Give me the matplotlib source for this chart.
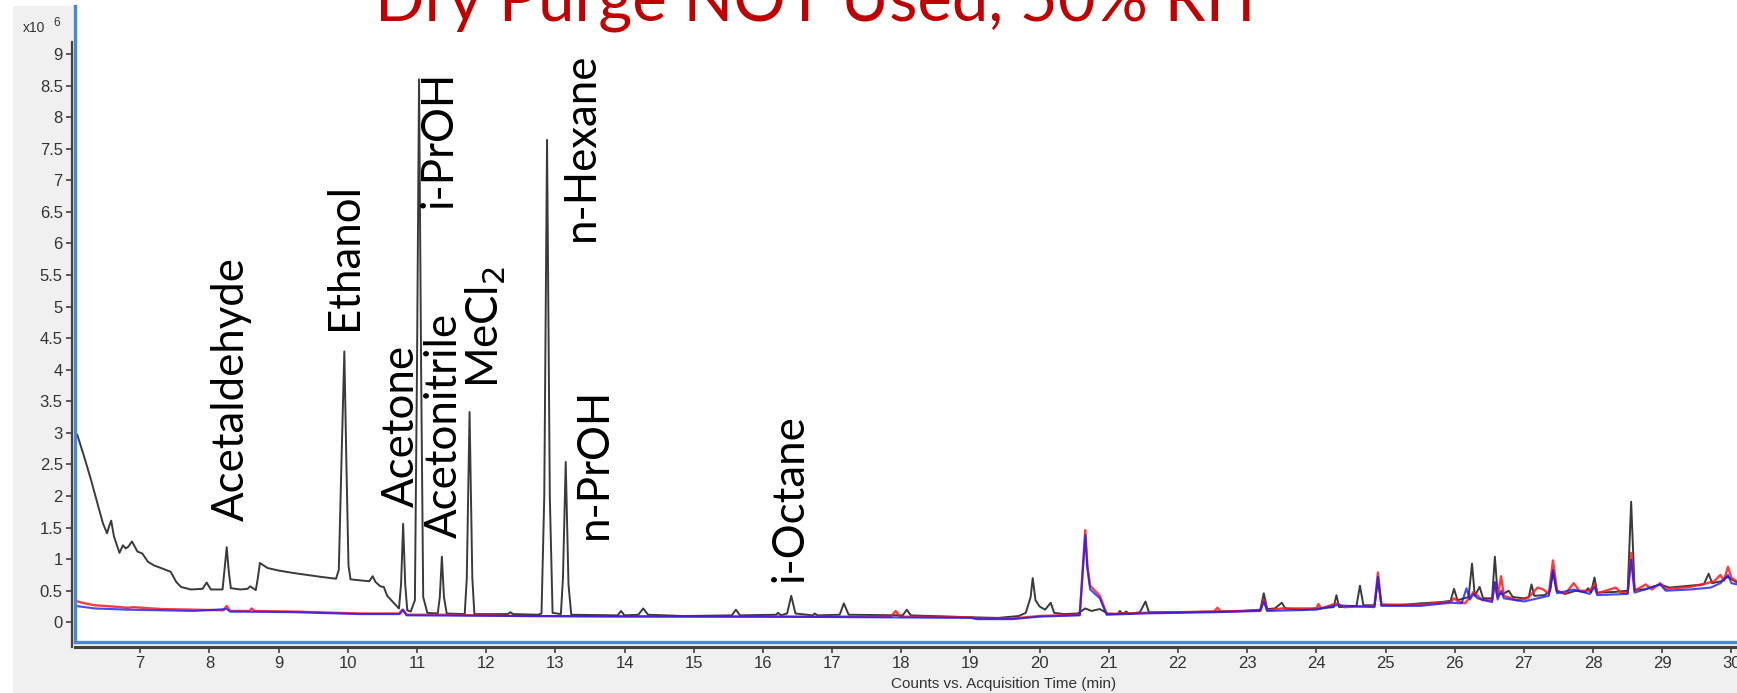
import matplotlib
matplotlib.use("Agg")
import matplotlib.pyplot as plt
from matplotlib.patches import Rectangle

W, H = 1737, 693

# retention time (min) and counts (x10^6)
black_t = [6.06, 6.09, 6.19, 6.29, 6.38, 6.46, 6.52, 6.55, 6.58, 6.62, 6.70, 6.75, 6.79, 6.83, 6.88,
           6.96, 7.03, 7.11, 7.20, 7.30, 7.44, 7.52, 7.59, 7.73, 7.90, 7.96, 8.02, 8.19, 8.22, 8.25,
           8.28, 8.31, 8.45, 8.55, 8.59, 8.67, 8.70, 8.73, 8.84, 9.00, 9.22, 9.61, 9.83, 9.87, 9.91,
           9.95, 9.98, 10.01, 10.04, 10.31, 10.36, 10.40, 10.47, 10.52, 10.57, 10.67, 10.74, 10.77,
           10.80, 10.83, 10.86, 10.91, 10.97, 11.00, 11.03, 11.06, 11.09, 11.15, 11.30, 11.33, 11.36,
           11.39, 11.43, 11.69, 11.72, 11.76, 11.80, 11.83, 12.31, 12.35, 12.39, 12.75, 12.80, 12.84,
           12.88, 12.92, 12.96, 13.08, 13.11, 13.15, 13.19, 13.23, 13.90, 13.95, 14.00, 14.20, 14.27,
           14.34, 14.85, 15.55, 15.61, 15.67, 16.19, 16.22, 16.26, 16.35, 16.41, 16.47, 16.72, 16.75,
           16.79, 17.11, 17.17, 17.24, 18.02, 18.08, 18.14, 19.00, 19.40, 19.70, 19.80, 19.87, 19.90,
           19.94, 20.00, 20.08, 20.16, 20.21, 20.35, 20.55, 20.66, 20.75, 20.87, 20.98, 21.13, 21.16,
           21.20, 21.25, 21.30, 21.45, 21.53, 21.58, 22.00, 22.50, 22.95, 23.05, 23.19, 23.24, 23.29,
           23.40, 23.50, 23.55, 23.80, 24.00, 24.25, 24.29, 24.33, 24.58, 24.63, 24.68, 24.84, 24.89,
           24.94, 25.20, 25.50, 25.80, 25.94, 25.99, 26.04, 26.20, 26.25, 26.29, 26.36, 26.41, 26.54,
           26.58, 26.62, 26.70, 26.78, 26.84, 27.00, 27.07, 27.11, 27.15, 27.30, 27.38, 27.42, 27.47,
           27.60, 27.75, 27.88, 27.93, 27.97, 28.02, 28.06, 28.30, 28.50, 28.55, 28.60, 28.75, 28.97,
           29.10, 29.40, 29.60, 29.67, 29.72, 29.85, 29.95, 30.08]
black_v = [3.00, 2.97, 2.62, 2.25, 1.89, 1.57, 1.41, 1.52, 1.61, 1.36, 1.10, 1.22, 1.17, 1.20, 1.28,
           1.12, 1.09, 0.96, 0.90, 0.86, 0.80, 0.64, 0.56, 0.52, 0.53, 0.63, 0.52, 0.52, 0.85, 1.19,
           0.80, 0.54, 0.52, 0.53, 0.57, 0.51, 0.70, 0.94, 0.86, 0.82, 0.78, 0.72, 0.69, 0.83, 2.60,
           4.29, 2.50, 0.90, 0.68, 0.65, 0.73, 0.64, 0.57, 0.56, 0.42, 0.30, 0.22, 0.60,
           1.56, 0.60, 0.19, 0.17, 0.35, 4.00, 8.60, 4.00, 0.40, 0.15, 0.14, 0.40, 1.04,
           0.40, 0.14, 0.13, 0.70, 3.33, 0.70, 0.13, 0.13, 0.16, 0.13, 0.12, 0.14, 2.00,
           7.64, 2.00, 0.15, 0.13, 0.70, 2.54, 0.60, 0.12, 0.11, 0.18, 0.11, 0.12, 0.22,
           0.12, 0.10, 0.11, 0.20, 0.11, 0.12, 0.15, 0.11, 0.14, 0.42, 0.14, 0.11, 0.14,
           0.11, 0.12, 0.30, 0.12, 0.11, 0.20, 0.11, 0.08, 0.07, 0.10, 0.15, 0.40, 0.70,
           0.35, 0.25, 0.20, 0.31, 0.15, 0.13, 0.14, 0.22, 0.18, 0.21, 0.14, 0.13, 0.18,
           0.13, 0.17, 0.13, 0.16, 0.33, 0.16, 0.16, 0.17, 0.18, 0.19, 0.20, 0.46, 0.21,
           0.22, 0.31, 0.22, 0.20, 0.22, 0.24, 0.43, 0.24, 0.26, 0.58, 0.27, 0.27, 0.67,
           0.28, 0.27, 0.30, 0.32, 0.34, 0.53, 0.35, 0.40, 0.93, 0.42, 0.56, 0.38, 0.38,
           1.04, 0.45, 0.45, 0.50, 0.40, 0.38, 0.40, 0.60, 0.42, 0.43, 0.50, 0.80, 0.50,
           0.45, 0.50, 0.48, 0.54, 0.47, 0.71, 0.47, 0.48, 0.50, 1.91, 0.52, 0.52, 0.60,
           0.55, 0.58, 0.60, 0.77, 0.62, 0.65, 0.72, 0.63]

red_t = [6.06, 6.20, 6.34, 6.60, 6.82, 6.90, 7.30, 7.78, 8.20, 8.25, 8.30, 8.58, 8.61, 8.65, 9.22,
         10.18, 10.74, 10.79, 10.85, 11.35, 12.50, 14.00, 16.00, 17.85, 17.92, 17.98, 19.00, 19.10,
         19.60, 20.00, 20.58, 20.62, 20.66, 20.69, 20.73, 20.80, 20.87, 20.93, 20.97, 21.50, 22.00,
         22.52, 22.57, 22.62, 23.19, 23.24, 23.29, 23.50, 24.00, 24.03, 24.07, 24.29, 24.40, 24.84,
         24.89, 24.94, 25.00, 25.50, 25.95, 25.99, 26.05, 26.15, 26.22, 26.27, 26.33, 26.40, 26.54,
         26.58, 26.62, 26.67, 26.71, 26.90, 27.05, 27.20, 27.28, 27.36, 27.42, 27.48, 27.60, 27.72,
         27.80, 27.95, 28.02, 28.06, 28.33, 28.40, 28.50, 28.55, 28.60, 28.76, 28.85, 28.97, 29.05,
         29.40, 29.65, 29.75, 29.84, 29.89, 29.95, 30.00, 30.08]
red_v = [0.34, 0.30, 0.27, 0.25, 0.23, 0.24, 0.21, 0.20, 0.19, 0.26, 0.18, 0.18, 0.22, 0.18, 0.17,
         0.14, 0.14, 0.20, 0.12, 0.12, 0.10, 0.09, 0.09, 0.09, 0.18, 0.09, 0.08, 0.06,
         0.06, 0.10, 0.12, 0.80, 1.46, 0.90, 0.58, 0.50, 0.42, 0.25, 0.13, 0.15, 0.16,
         0.17, 0.23, 0.17, 0.19, 0.36, 0.19, 0.22, 0.22, 0.29, 0.22, 0.30, 0.24, 0.26,
         0.79, 0.28, 0.28, 0.28, 0.33, 0.38, 0.33, 0.30, 0.40, 0.48, 0.42, 0.35, 0.35,
         0.62, 0.40, 0.73, 0.42, 0.35, 0.38, 0.55, 0.52, 0.45, 0.98, 0.50, 0.45, 0.62,
         0.50, 0.50, 0.60, 0.46, 0.55, 0.47, 0.47, 1.10, 0.50, 0.60, 0.52, 0.62, 0.53,
         0.56, 0.62, 0.65, 0.75, 0.66, 0.88, 0.70, 0.65]

blue_t = [6.06, 6.34, 6.82, 7.78, 8.25, 8.30, 9.22, 10.18, 10.75, 10.80, 10.85, 12.50, 16.00, 19.00,
          19.10, 19.60, 20.00, 20.58, 20.62, 20.66, 20.69, 20.73, 20.80, 20.87, 20.93, 20.97, 21.50,
          22.00, 22.55, 23.19, 23.24, 23.29, 24.00, 24.29, 24.84, 24.89, 24.94, 25.50, 25.95, 26.10,
          26.17, 26.22, 26.27, 26.33, 26.54, 26.58, 26.62, 26.67, 26.71, 27.00, 27.20, 27.36, 27.42,
          27.48, 27.72, 27.95, 28.02, 28.06, 28.50, 28.55, 28.60, 28.97, 29.05, 29.40, 29.70, 29.84,
          29.95, 30.00, 30.08]
blue_v = [0.26, 0.22, 0.20, 0.18, 0.21, 0.17, 0.16, 0.13, 0.13, 0.20, 0.11, 0.10, 0.09, 0.07,
          0.05, 0.05, 0.09, 0.11, 0.75, 1.38, 0.85, 0.52, 0.45, 0.38, 0.22, 0.12, 0.14,
          0.15, 0.16, 0.18, 0.33, 0.18, 0.20, 0.27, 0.24, 0.72, 0.26, 0.26, 0.31, 0.30,
          0.54, 0.36, 0.45, 0.38, 0.32, 0.64, 0.36, 0.50, 0.38, 0.33, 0.38, 0.42, 0.83,
          0.46, 0.52, 0.45, 0.56, 0.43, 0.45, 0.99, 0.47, 0.60, 0.50, 0.52, 0.55, 0.62,
          0.75, 0.62, 0.60]

# compound labels: text, baseline x (min), start y (x10^6)
labels = ["Acetaldehyde", "Ethanol", "Acetone", "Acetonitrile", "MeCl$_2$",
          "i-PrOH", "n-Hexane", "n-PrOH", "i-Octane"]
label_t = [8.50, 10.14, 10.95, 11.57, 12.18, 11.50, 13.55, 13.74, 16.57]
label_v = [1.60, 4.63, 1.83, 1.34, 3.71, 6.56, 6.04, 1.32, 0.64]

xticks = list(range(7, 31))
yticks = [i * 0.5 for i in range(19)]

fig = plt.figure(figsize=(W / 100, H / 100), dpi=100, facecolor="white")
fig.add_artist(Rectangle((13 / W, 0), 1 - 13 / W, (H - 6) / H, transform=fig.transFigure,
                         facecolor="#f0f0f0", edgecolor="none", zorder=-5))

ax = fig.add_axes([75 / W, (H - 641.7) / H, 1 - 75 / W, (641.7 - 6) / H])
ax.set_facecolor("white")
ax.set_xlim(6.057, 30.08)
ax.set_ylim(-0.307, 9.76)

ax.plot(black_t, black_v, color="#3a3a3a", lw=1.4, zorder=3)
ax.plot(red_t, red_v, color="#ff1a1a", lw=1.7, alpha=0.85, zorder=4)
ax.plot(blue_t, blue_v, color="#1a1aff", lw=1.5, alpha=0.8, zorder=5)

for s in ["top", "right"]:
    ax.spines[s].set_visible(False)
dark = "#404040"
ax.spines["left"].set_color(dark)
ax.spines["left"].set_linewidth(1.6)
ax.spines["left"].set_position(("outward", 2))
ax.spines["left"].set_bounds(-0.39, 9.19)
ax.spines["bottom"].set_color(dark)
ax.spines["bottom"].set_linewidth(2.2)
ax.spines["bottom"].set_position(("outward", 3.6))
ax.plot([0, 0], [0, 1], transform=ax.transAxes, color="#4a86d8", lw=2.4, clip_on=False, zorder=6)
ax.plot([0, 1], [0, 0], transform=ax.transAxes, color="#4a86d8", lw=2.4, clip_on=False, zorder=6)

ax.set_xticks(xticks)
ax.set_yticks(yticks)
ax.set_yticklabels(["%g" % v for v in yticks])
ax.tick_params(axis="both", colors=dark, labelcolor="#333333", labelsize=12, length=4.3,
               width=1.2, pad=2.5)
for lab in ax.get_xticklabels() + ax.get_yticklabels():
    lab.set_family("Liberation Sans")

fig.text(1004 / W, (H - 684) / H, "Counts vs. Acquisition Time (min)", ha="center", va="center",
         fontsize=11, color="#333333", family="Liberation Sans")
fig.text(23 / W, (H - 31.5) / H, "x10", ha="left", va="baseline", fontsize=10,
         color="#333333", family="Liberation Sans")
fig.text(53 / W, (H - 26) / H, "6", ha="left", va="baseline", fontsize=8.5,
         color="#333333", family="Liberation Sans")

for name, t, v in zip(labels, label_t, label_v):
    ax.text(t, v, name, rotation=90, rotation_mode="anchor", ha="left", va="baseline",
            fontsize=31.5, family="Lato", color="black", zorder=7)

fig.text(815.5 / W, (H - 20.7) / H, "Dry Purge NOT Used, 50% RH", ha="center", va="baseline",
         fontsize=47, family="Lato", color="#c00000", zorder=10)

fig.savefig("out.png", dpi=100, facecolor=fig.get_facecolor())
